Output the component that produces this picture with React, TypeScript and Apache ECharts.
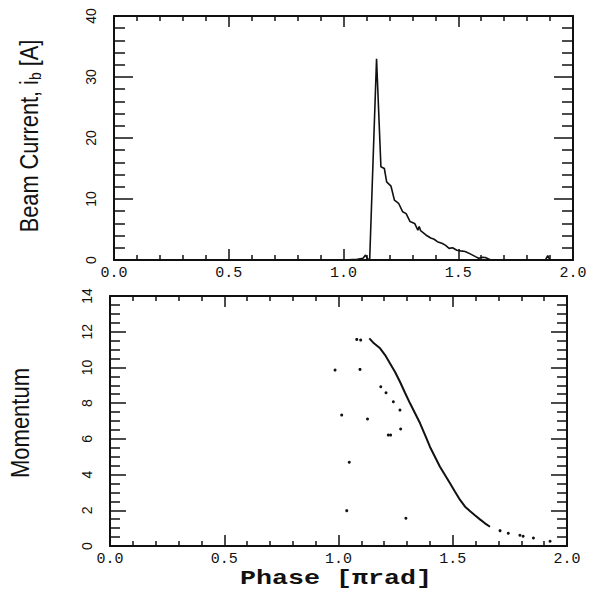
import React, { useEffect, useRef, useState } from "react";
import * as echarts from "echarts";

// ---- data ----
const phaseTickLabels = ["0.0", "0.5", "1.0", "1.5", "2.0"];
const beamTickLabels = ["0", "10", "20", "30", "40"];
const momentumTickLabels = ["0", "2", "4", "6", "8", "10", "12", "14"];

const beamPhase = [0, 1.0, 1.06, 1.085, 1.096, 1.105, 1.114, 1.144, 1.163, 1.178, 1.188, 1.207, 1.222, 1.24, 1.258, 1.273, 1.29, 1.31, 1.324, 1.33, 1.336, 1.359, 1.38, 1.395, 1.409, 1.431, 1.445, 1.46, 1.475, 1.494, 1.51, 1.53, 1.552, 1.575, 1.589, 1.605, 1.618, 1.642, 1.7, 1.88, 1.89, 1.9, 2.0];
const beamCurrent = [0, 0, 0.1, 0.3, 0.8, 0.2, 0, 33.0, 15.3, 15.0, 12.8, 12.1, 9.8, 9.3, 7.9, 7.6, 6.3, 6.0, 4.9, 5.5, 4.8, 4.1, 3.6, 3.4, 3.0, 2.7, 2.4, 1.9, 2.0, 1.6, 1.5, 1.4, 1.0, 0.55, 0.3, 0.45, 0.4, 0, 0, 0, 0.7, 0, 0];

const curvePhase = [1.135, 1.155, 1.182, 1.204, 1.225, 1.247, 1.269, 1.291, 1.313, 1.335, 1.357, 1.379, 1.4, 1.422, 1.444, 1.466, 1.488, 1.51, 1.532, 1.554, 1.575, 1.597, 1.619, 1.641, 1.663];
const curveMomentum = [11.63, 11.35, 11.07, 10.69, 10.23, 9.76, 9.2, 8.58, 7.99, 7.43, 6.87, 6.21, 5.56, 5.0, 4.44, 3.98, 3.51, 3.04, 2.58, 2.2, 1.96, 1.72, 1.49, 1.27, 1.08];

const tailPhase = [1.707, 1.743, 1.794, 1.808, 1.853, 1.926];
const tailMomentum = [0.86, 0.71, 0.6, 0.55, 0.45, 0.27];

const strayPhase = [1.08, 1.097, 0.985, 1.094, 1.185, 1.208, 1.24, 1.269, 1.014, 1.127, 1.272, 1.218, 1.228, 1.047, 1.036, 1.295];
const strayMomentum = [11.57, 11.53, 9.85, 9.89, 8.92, 8.58, 8.08, 7.61, 7.33, 7.11, 6.55, 6.21, 6.21, 4.69, 1.98, 1.55];

const zip = (a: number[], b: number[]) => a.map((v, i) => [v, b[i]]);

const INK = "#111";
const SANS = "'Liberation Sans', Arial, sans-serif";
const MONO = "'Liberation Mono', 'Courier New', monospace";

function xAxisPair(gridIndex: number) {
  const common = {
    gridIndex, type: "value", min: 0, max: 2, interval: 0.5,
    splitLine: { show: false }, minorSplitLine: { show: false },
    axisLine: { show: true, onZero: false, lineStyle: { color: INK, width: 2 } },
    axisTick: { show: true, inside: true, length: 11, lineStyle: { color: INK, width: 1.5 } },
    minorTick: { show: true, splitNumber: 5, length: 5, lineStyle: { color: INK, width: 1.5 } },
  };
  return [
    { ...common, position: "bottom", axisLabel: { show: true, showMinLabel: true, showMaxLabel: true, margin: 6, color: INK, fontFamily: MONO, fontSize: 15, formatter: (v: number) => phaseTickLabels[Math.round(v / 0.5)] } },
    { ...common, position: "top", axisLabel: { show: false } },
  ];
}
function yAxisPair(gridIndex: number, max: number, interval: number, minorSplit: number, labels: string[], major: number, minor: number) {
  const common = {
    gridIndex, type: "value", min: 0, max, interval,
    splitLine: { show: false }, minorSplitLine: { show: false },
    axisLine: { show: true, onZero: false, lineStyle: { color: INK, width: 2 } },
    axisTick: { show: true, inside: true, length: major, lineStyle: { color: INK, width: 1.5 } },
    minorTick: { show: true, splitNumber: minorSplit, length: minor, lineStyle: { color: INK, width: 1.5 } },
  };
  return [
    { ...common, position: "left", axisLabel: { show: true, rotate: 90, margin: 16, color: INK, fontFamily: SANS, fontSize: 14, showMinLabel: true, showMaxLabel: true, formatter: (v: number) => labels[Math.round(v / interval)] } },
    { ...common, position: "right", axisLabel: { show: false } },
  ];
}

function dotSeries(px: number[], py: number[]) {
  return {
    type: "line", xAxisIndex: 2, yAxisIndex: 2, data: zip(px, py),
    showSymbol: true, showAllSymbol: true, symbol: "circle", symbolSize: 3,
    lineStyle: { width: 0, opacity: 0 }, itemStyle: { color: INK },
  };
}

export default function App() {
  const plotRef = useRef<HTMLDivElement>(null);
  const titleRef = useRef<HTMLDivElement>(null);
  const [, setStamp] = useState("");
  useEffect(() => {
    if (!plotRef.current || !titleRef.current) return;
    const chart = echarts.init(plotRef.current, undefined, { renderer: "svg" });
    chart.setOption({
      animation: false,
      color: [INK],
      grid: [
        { left: 114, top: 16, width: 459, height: 244 },
        { left: 110, top: 296, width: 457, height: 250 },
      ],
      xAxis: [...xAxisPair(0), ...xAxisPair(1)],
      yAxis: [...yAxisPair(0, 40, 10, 5, beamTickLabels, 19, 11), ...yAxisPair(1, 14, 2, 4, momentumTickLabels, 16, 10)],
      series: [
        { type: "line", xAxisIndex: 0, yAxisIndex: 0, data: zip(beamPhase, beamCurrent), showSymbol: false, lineStyle: { color: INK, width: 1.6 } },
        { type: "line", xAxisIndex: 2, yAxisIndex: 2, data: zip(curvePhase, curveMomentum), showSymbol: false, lineStyle: { color: INK, width: 2 } },
        dotSeries(tailPhase, tailMomentum),
        dotSeries(strayPhase, strayMomentum),
      ],
    } as any);
    const m: any = (chart as any).getModel();
    const probe = [0, 1, 2, 3].map((i) => String(m.getComponent("yAxis", i).get(["axisLabel", "rotate"])) + String(m.getComponent("xAxis", i).get(["axisTick", "show"]))).join(",");
    const svg = (chart as any).renderToSVGString();
    setStamp(probe + ":" + svg.length);

    const titles = echarts.init(titleRef.current, undefined, { renderer: "svg" });
    titles.setOption({
      animation: false,
      graphic: [
        {
          type: "text", x: 29, y: 136, rotation: Math.PI / 2, scaleX: 0.87,
          style: {
            text: "{m|Beam Current, i}{sub|b}{m| [A]}",
            fill: INK, align: "center", verticalAlign: "middle",
            fontFamily: SANS, fontSize: 25,
            rich: {
              m: { fontFamily: SANS, fontSize: 25, lineHeight: 25, verticalAlign: "top", fill: INK },
              sub: { fontFamily: SANS, fontSize: 16, lineHeight: 16, padding: [11, 0, 0, 0], verticalAlign: "top", fill: INK },
            },
          },
        },
        {
          type: "text", x: 21, y: 423, rotation: Math.PI / 2, scaleX: 0.88,
          style: { text: "Momentum", fill: INK, align: "center", verticalAlign: "middle", fontFamily: SANS, fontSize: 25 },
        },
        {
          type: "text", x: 336, y: 578, scaleX: 1.27,
          style: { text: "Phase [πrad]", fill: INK, align: "center", verticalAlign: "middle", fontFamily: MONO, fontWeight: "bold", fontSize: 21 },
        },
      ],
    } as any);
    return () => {
      titles.dispose();
      chart.dispose();
    };
  }, []);
  return (
    <div>
      <div ref={plotRef} style={{ position: "fixed", left: 0, top: 0, width: 596, height: 595, background: "#fff" }} />
      <div ref={titleRef} style={{ position: "fixed", left: 0, top: 0, width: 596, height: 595, pointerEvents: "none" }} />
    </div>
  );
}
